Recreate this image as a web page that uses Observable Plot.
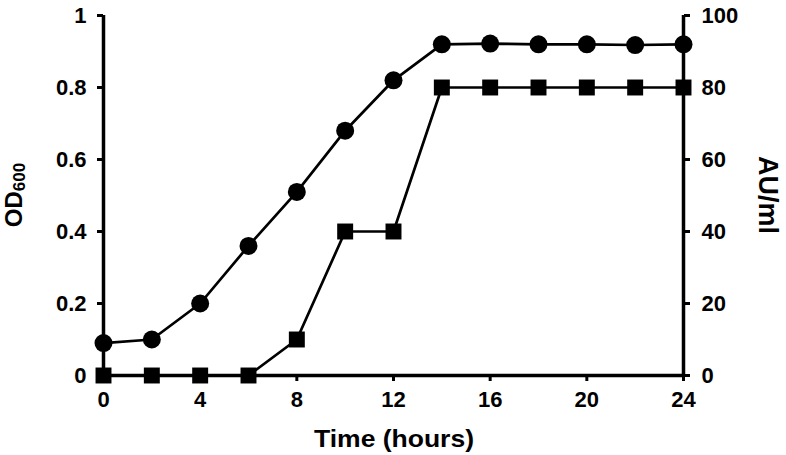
<!DOCTYPE html>
<html>
<head>
<meta charset="utf-8">
<script src="https://cdn.jsdelivr.net/npm/d3@7"></script>
<script src="https://cdn.jsdelivr.net/npm/@observablehq/plot@0.6"></script>
<style>
  html, body { margin: 0; padding: 0; background: white; }
</style>
</head>
<body>
<div id="chart"></div>
<script>
const times = [0, 2, 4, 6, 8, 10, 12, 14, 16, 18, 20, 22, 24];
const od600 = [0.09, 0.10, 0.20, 0.36, 0.51, 0.68, 0.82, 0.92, 0.922, 0.92, 0.92, 0.918, 0.92];
const auPerMl = [0, 0, 0, 0, 10, 40, 40, 80, 80, 80, 80, 80, 80];
const xTicks = [0, 4, 8, 12, 16, 20, 24];
const odTicks = [0, 0.2, 0.4, 0.6, 0.8, 1];
const auMax = 100;

const odData = times.map((t, i) => ({t, v: od600[i]}));
const auData = times.map((t, i) => ({t, v: auPerMl[i] / auMax}));

const font = "'Liberation Sans', Arial, Helvetica, sans-serif";

const chart = Plot.plot({
  width: 786,
  height: 455,
  marginLeft: 103,
  marginRight: 103,
  marginTop: 15,
  marginBottom: 80,
  x: {domain: [0, 24]},
  y: {domain: [0, 1]},
  style: {fontFamily: font, fontSize: "22px", fontWeight: "bold", color: "black", background: "white"},
  marks: [
    Plot.axisX({ticks: xTicks, tickSize: 6, tickPadding: 10, strokeWidth: 3, label: null, fontSize: 22}),
    Plot.axisY({ticks: odTicks, tickSize: 6, tickPadding: 11, strokeWidth: 3, label: null, fontSize: 22,
      tickFormat: d => d3.format("")(+d.toFixed(2))}),
    Plot.axisY({anchor: "right", ticks: odTicks, tickSize: 6, tickPadding: 12, strokeWidth: 3, label: null, fontSize: 22,
      tickFormat: d => String(Math.round(d * auMax))}),
    Plot.ruleX([0, 24], {y1: 0, y2: 1, strokeWidth: 3.5}),
    Plot.ruleY([0], {x1: 0, x2: 24, strokeWidth: 3.5}),
    Plot.line(auData, {x: "t", y: "v", stroke: "black", strokeWidth: 2.7}),
    Plot.line(odData, {x: "t", y: "v", stroke: "black", strokeWidth: 2.7}),
    Plot.dot(auData, {x: "t", y: "v", symbol: "square", r: 9, fill: "black", stroke: "none"}),
    Plot.dot(odData, {x: "t", y: "v", symbol: "circle", r: 9, fill: "black", stroke: "none"})
  ]
});

const svg = d3.select(chart);
// x-axis title
svg.append("text")
  .attr("x", 394).attr("y", 447)
  .attr("text-anchor", "middle")
  .attr("font-size", 24).attr("font-weight", "bold").attr("font-family", font)
  .attr("textLength", 160).attr("lengthAdjust", "spacingAndGlyphs")
  .text("Time (hours)");
// left axis title with subscript
const yl = svg.append("text")
  .attr("transform", "translate(22,195) rotate(-90)")
  .attr("text-anchor", "middle")
  .attr("font-size", 24).attr("font-weight", "bold").attr("font-family", font);
yl.append("tspan").text("OD");
yl.append("tspan").attr("font-size", 17).attr("dy", 3).text("600");
// right axis title
svg.append("text")
  .attr("transform", "translate(759,195) rotate(90)")
  .attr("text-anchor", "middle")
  .attr("font-size", 27).attr("font-weight", "bold").attr("font-family", font)
  .text("AU/ml");

document.getElementById("chart").appendChild(chart);
</script>
</body>
</html>
